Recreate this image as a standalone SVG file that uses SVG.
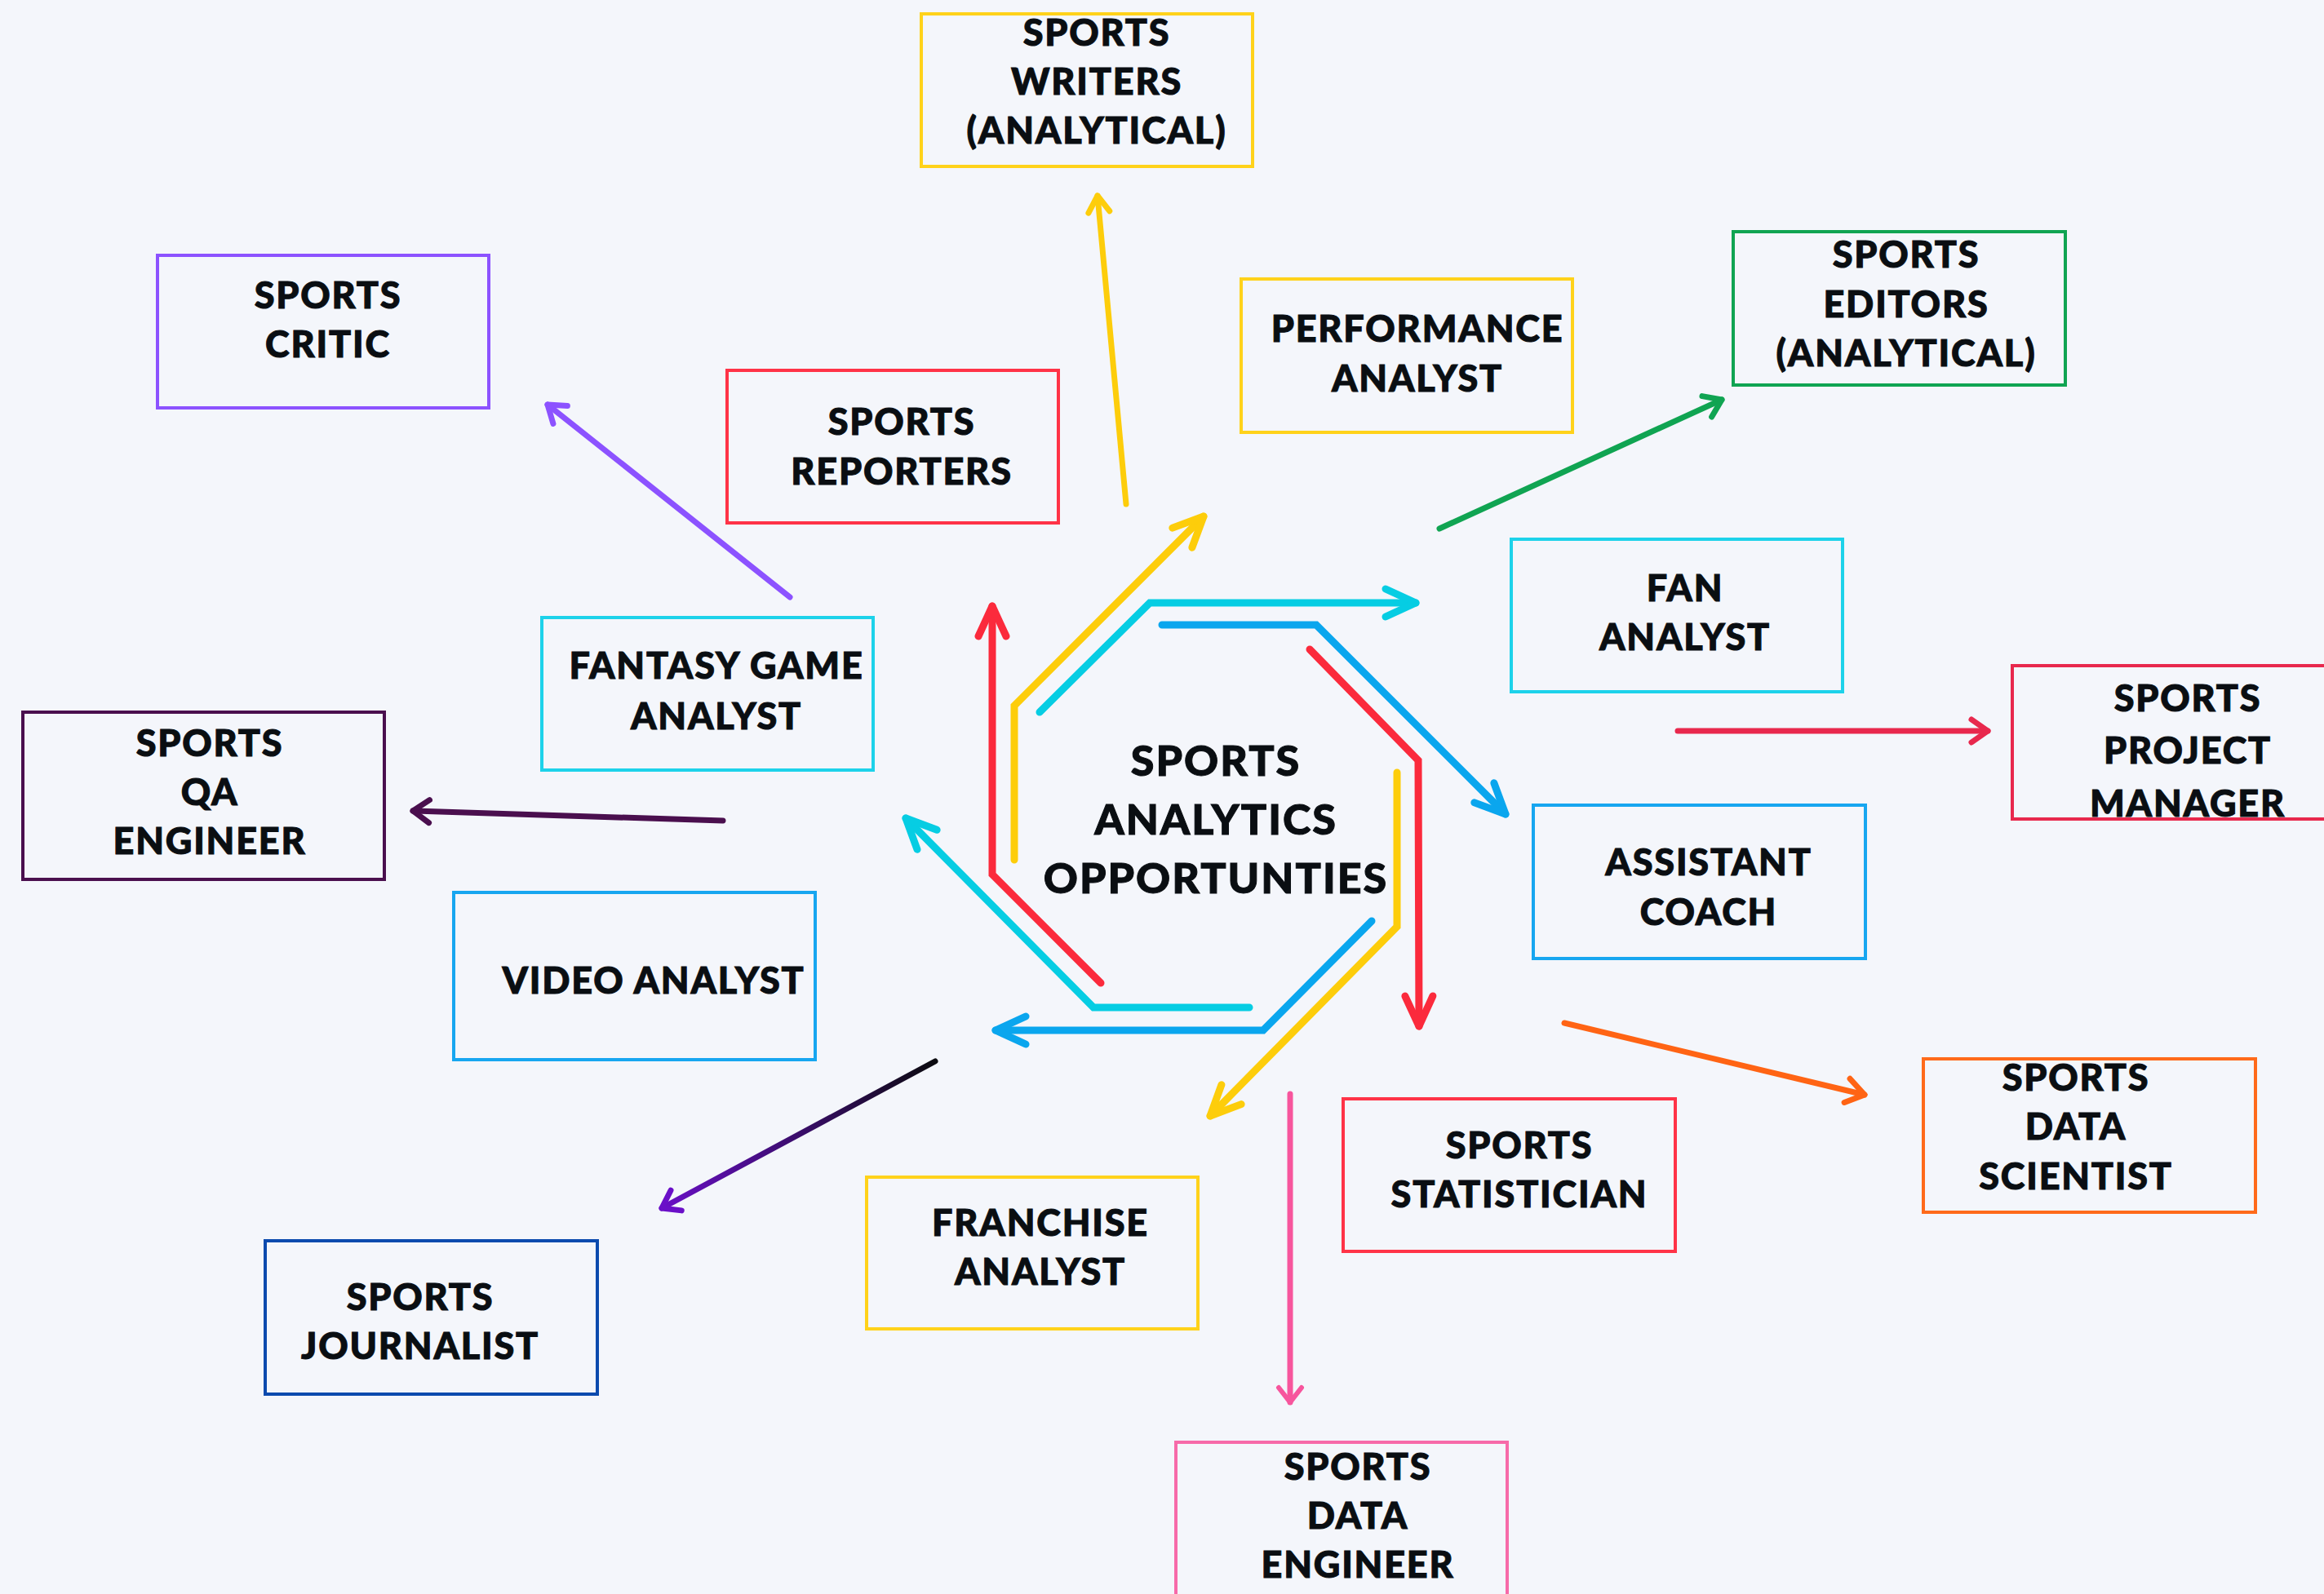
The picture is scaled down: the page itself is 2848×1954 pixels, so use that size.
<svg xmlns="http://www.w3.org/2000/svg" width="2848" height="1954" viewBox="0 0 2848 1954">
<style>
.box{fill:none;stroke-width:4}
.t{font-family:Lato,"Liberation Sans",sans-serif;font-weight:900;font-size:45px;fill:#0a0e12;stroke:#0a0e12;stroke-width:1;text-anchor:middle;letter-spacing:1.8px}
.ct{font-family:Lato,"Liberation Sans",sans-serif;font-weight:900;font-size:52px;fill:#0a0e12;stroke:#0a0e12;stroke-width:1;text-anchor:middle;letter-spacing:2px}
.c{fill:none;stroke-width:9;stroke-linecap:round;stroke-linejoin:miter}
.o{fill:none;stroke-width:7;stroke-linecap:round}
</style>
<defs>
<linearGradient id="gj" x1="1146" y1="1302" x2="810" y2="1482" gradientUnits="userSpaceOnUse"><stop offset="0" stop-color="#0b0b0f"/><stop offset="1" stop-color="#6a0fc8"/></linearGradient>
<marker id="mY" markerUnits="userSpaceOnUse" viewBox="-50 -30 60 60" markerWidth="60" markerHeight="60" refX="0" refY="0" orient="auto" overflow="visible"><path d="M-37,-17 L0,0 L-37,17" fill="none" stroke="#fdcd0b" stroke-width="9" stroke-linecap="round" stroke-linejoin="round"/></marker>
<marker id="mC" markerUnits="userSpaceOnUse" viewBox="-50 -30 60 60" markerWidth="60" markerHeight="60" refX="0" refY="0" orient="auto" overflow="visible"><path d="M-37,-17 L0,0 L-37,17" fill="none" stroke="#06cde3" stroke-width="9" stroke-linecap="round" stroke-linejoin="round"/></marker>
<marker id="mB" markerUnits="userSpaceOnUse" viewBox="-50 -30 60 60" markerWidth="60" markerHeight="60" refX="0" refY="0" orient="auto" overflow="visible"><path d="M-37,-17 L0,0 L-37,17" fill="none" stroke="#0aa6ee" stroke-width="9" stroke-linecap="round" stroke-linejoin="round"/></marker>
<marker id="mR" markerUnits="userSpaceOnUse" viewBox="-50 -30 60 60" markerWidth="60" markerHeight="60" refX="0" refY="0" orient="auto" overflow="visible"><path d="M-37,-17 L0,0 L-37,17" fill="none" stroke="#fb2a3c" stroke-width="9" stroke-linecap="round" stroke-linejoin="round"/></marker>
<marker id="oY" markerUnits="userSpaceOnUse" viewBox="-30 -20 40 40" markerWidth="40" markerHeight="40" refX="0" refY="0" orient="auto" overflow="visible"><path d="M-20,-13 L0,0 L-20,13" fill="none" stroke="#fdcd0b" stroke-width="7" stroke-linecap="round" stroke-linejoin="round"/></marker>
<marker id="oP" markerUnits="userSpaceOnUse" viewBox="-30 -20 40 40" markerWidth="40" markerHeight="40" refX="0" refY="0" orient="auto" overflow="visible"><path d="M-20,-14 L0,0 L-20,14" fill="none" stroke="#8c52ff" stroke-width="7" stroke-linecap="round" stroke-linejoin="round"/></marker>
<marker id="oG" markerUnits="userSpaceOnUse" viewBox="-30 -20 40 40" markerWidth="40" markerHeight="40" refX="0" refY="0" orient="auto" overflow="visible"><path d="M-20,-14 L0,0 L-20,14" fill="none" stroke="#10a452" stroke-width="7" stroke-linecap="round" stroke-linejoin="round"/></marker>
<marker id="oK" markerUnits="userSpaceOnUse" viewBox="-30 -20 40 40" markerWidth="40" markerHeight="40" refX="0" refY="0" orient="auto" overflow="visible"><path d="M-20,-14 L0,0 L-20,14" fill="none" stroke="#e8284d" stroke-width="7" stroke-linecap="round" stroke-linejoin="round"/></marker>
<marker id="oD" markerUnits="userSpaceOnUse" viewBox="-30 -20 40 40" markerWidth="40" markerHeight="40" refX="0" refY="0" orient="auto" overflow="visible"><path d="M-20,-14 L0,0 L-20,14" fill="none" stroke="#4a0f4e" stroke-width="7" stroke-linecap="round" stroke-linejoin="round"/></marker>
<marker id="oJ" markerUnits="userSpaceOnUse" viewBox="-30 -20 40 40" markerWidth="40" markerHeight="40" refX="0" refY="0" orient="auto" overflow="visible"><path d="M-20,-14 L0,0 L-20,14" fill="none" stroke="#6a0fc8" stroke-width="7" stroke-linecap="round" stroke-linejoin="round"/></marker>
<marker id="oN" markerUnits="userSpaceOnUse" viewBox="-30 -20 40 40" markerWidth="40" markerHeight="40" refX="0" refY="0" orient="auto" overflow="visible"><path d="M-18,-14 L0,0 L-18,14" fill="none" stroke="#f7559d" stroke-width="6" stroke-linecap="round" stroke-linejoin="round"/></marker>
<marker id="oO" markerUnits="userSpaceOnUse" viewBox="-30 -20 40 40" markerWidth="40" markerHeight="40" refX="0" refY="0" orient="auto" overflow="visible"><path d="M-22,-15 L0,0 L-22,15" fill="none" stroke="#ff6414" stroke-width="7" stroke-linecap="round" stroke-linejoin="round"/></marker>
</defs>
<rect width="2848" height="1954" fill="#f4f6fb"/>

<g id="connectors">
<path class="c" stroke="#fdcd0b" d="M1243,1054 L1243,865 L1475,633" marker-end="url(#mY)"/>
<path class="c" stroke="#06cde3" d="M1274,873 L1409,739 L1735,739" marker-end="url(#mC)"/>
<path class="c" stroke="#0aa6ee" d="M1424,766 L1613,766 L1845,998" marker-end="url(#mB)"/>
<path class="c" stroke="#fb2a3c" d="M1605,796 L1738,932 L1739,1258" marker-end="url(#mR)"/>
<path class="c" stroke="#fdcd0b" d="M1712,947 L1712,1136 L1483,1368" marker-end="url(#mY)"/>
<path class="c" stroke="#0aa6ee" d="M1681,1129 L1548,1263 L1220,1263" marker-end="url(#mB)"/>
<path class="c" stroke="#06cde3" d="M1531,1235 L1340,1235 L1110,1003" marker-end="url(#mC)"/>
<path class="c" stroke="#fb2a3c" d="M1349,1205 L1216,1072 L1216,743" marker-end="url(#mR)"/>

<path class="o" stroke="#fdcd0b" d="M1380,618 L1345,240" marker-end="url(#oY)"/>
<path class="o" stroke="#8c52ff" d="M968,732 L671,496" marker-end="url(#oP)"/>
<path class="o" stroke="#10a452" d="M1764,648 L2110,490" marker-end="url(#oG)"/>
<path class="o" stroke="#e8284d" d="M2056,896 L2436,896" marker-end="url(#oK)"/>
<path class="o" stroke="#4a0f4e" d="M886,1006 L506,994" marker-end="url(#oD)"/>
<path class="o" stroke="url(#gj)" d="M1146,1301 L811,1481" marker-end="url(#oJ)"/>
<path class="o" stroke="#f7559d" stroke-width="5" d="M1581,1341 L1581,1719" marker-end="url(#oN)"/>
<path class="o" stroke="#ff6414" d="M1917,1254 L2285,1342" marker-end="url(#oO)"/>
</g>

<g id="center"><text class="ct" x="1490" y="951">SPORTS</text><text class="ct" x="1490" y="1023">ANALYTICS</text><text class="ct" x="1490" y="1095">OPPORTUNTIES</text></g>

<g id="writers"><rect class="box" stroke="#ffd21a" x="1129" y="17" width="406" height="187"/><text class="t" x="1344" y="56">SPORTS</text><text class="t" x="1344" y="116">WRITERS</text><text class="t" x="1344" y="176">(ANALYTICAL)</text></g>
<g id="critic"><rect class="box" stroke="#8c52ff" x="193" y="313" width="406" height="187"/><text class="t" x="402" y="378">SPORTS</text><text class="t" x="402" y="438">CRITIC</text></g>
<g id="reporters"><rect class="box" stroke="#ff3347" x="891" y="454" width="406" height="187"/><text class="t" x="1105" y="533">SPORTS</text><text class="t" x="1105" y="594">REPORTERS</text></g>
<g id="performance"><rect class="box" stroke="#ffd21a" x="1521" y="342" width="406" height="188"/><text class="t" x="1737" y="419">PERFORMANCE</text><text class="t" x="1737" y="480">ANALYST</text></g>
<g id="editors"><rect class="box" stroke="#10a452" x="2124" y="284" width="407" height="188"/><text class="t" x="2336" y="328">SPORTS</text><text class="t" x="2336" y="389">EDITORS</text><text class="t" x="2336" y="449">(ANALYTICAL)</text></g>
<g id="fan"><rect class="box" stroke="#1dd2ea" x="1852" y="661" width="406" height="187"/><text class="t" x="2065" y="737">FAN</text><text class="t" x="2065" y="797">ANALYST</text></g>
<g id="project"><rect class="box" stroke="#e8284d" x="2466" y="816" width="400" height="188"/><text class="t" x="2681" y="872">SPORTS</text><text class="t" x="2681" y="936">PROJECT</text><text class="t" x="2681" y="1001">MANAGER</text></g>
<g id="fantasy"><rect class="box" stroke="#1dd2ea" x="664" y="757" width="406" height="187"/><text class="t" x="878" y="832">FANTASY GAME</text><text class="t" x="878" y="894">ANALYST</text></g>
<g id="qa"><rect class="box" stroke="#4a0f4e" x="28" y="873" width="443" height="205"/><text class="t" x="257" y="927">SPORTS</text><text class="t" x="257" y="987">QA</text><text class="t" x="257" y="1047">ENGINEER</text></g>
<g id="video"><rect class="box" stroke="#17a6f0" x="556" y="1094" width="443" height="205"/><text class="t" x="801" y="1218">VIDEO ANALYST</text></g>
<g id="journalist"><rect class="box" stroke="#0b4aae" x="325" y="1521" width="407" height="188"/><text class="t" x="515" y="1606">SPORTS</text><text class="t" x="515" y="1666">JOURNALIST</text></g>
<g id="franchise"><rect class="box" stroke="#ffd21a" x="1062" y="1443" width="406" height="186"/><text class="t" x="1275" y="1515">FRANCHISE</text><text class="t" x="1275" y="1575">ANALYST</text></g>
<g id="dataengineer"><rect class="box" stroke="#f76aa9" x="1441" y="1768" width="406" height="200"/><text class="t" x="1664" y="1814">SPORTS</text><text class="t" x="1664" y="1874">DATA</text><text class="t" x="1664" y="1934">ENGINEER</text></g>
<g id="statistician"><rect class="box" stroke="#ff3347" x="1646" y="1347" width="407" height="187"/><text class="t" x="1862" y="1420">SPORTS</text><text class="t" x="1862" y="1480">STATISTICIAN</text></g>
<g id="datascientist"><rect class="box" stroke="#ff6a1a" x="2357" y="1298" width="407" height="188"/><text class="t" x="2544" y="1337">SPORTS</text><text class="t" x="2544" y="1397">DATA</text><text class="t" x="2544" y="1458">SCIENTIST</text></g>
<g id="assistant"><rect class="box" stroke="#17a6f0" x="1879" y="987" width="407" height="188"/><text class="t" x="2094" y="1073">ASSISTANT</text><text class="t" x="2094" y="1134">COACH</text></g>
</svg>
